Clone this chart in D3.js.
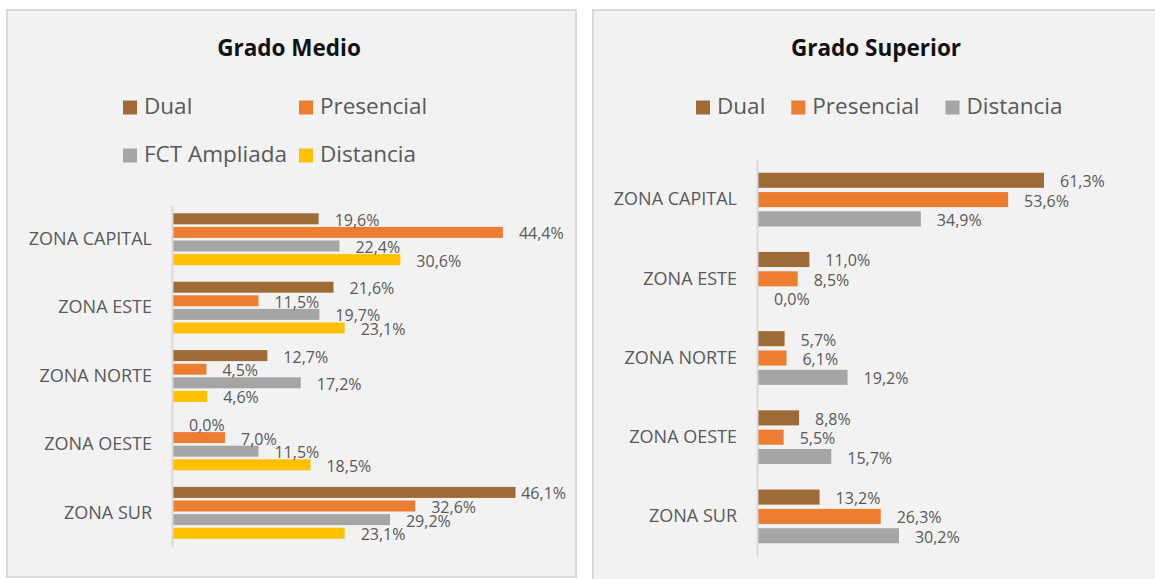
<!DOCTYPE html>
<html><head><meta charset="utf-8">
<script src="https://cdn.jsdelivr.net/npm/d3@7"></script>
<style>body{margin:0;background:#fff}svg{display:block;font-family:"Open Sans",sans-serif}</style>
</head><body><svg id="c" width="1155" height="579"></svg>
<script>
const categories = ["ZONA CAPITAL", "ZONA ESTE", "ZONA NORTE", "ZONA OESTE", "ZONA SUR"];

const medioSeries = ["Dual", "Presencial", "FCT Ampliada", "Distancia"];
const medioDual = [19.6, 21.6, 12.7, 0.0, 46.1];
const medioPresencial = [44.4, 11.5, 4.5, 7.0, 32.6];
const medioFCT = [22.4, 19.7, 17.2, 11.5, 29.2];
const medioDistancia = [30.6, 23.1, 4.6, 18.5, 23.1];

const superiorSeries = ["Dual", "Presencial", "Distancia"];
const superiorDual = [61.3, 11.0, 5.7, 8.8, 13.2];
const superiorPresencial = [53.6, 8.5, 6.1, 5.5, 26.3];
const superiorDistancia = [34.9, 0.0, 19.2, 15.7, 30.2];

const colMedio = ["#9E6B37", "#ED7D31", "#A5A5A5", "#FFC000"];
const colSuperior = ["#9E6B37", "#ED7D31", "#A5A5A5"];

const svg = d3.select("#c");
const fmt = v => d3.format(".1f")(v).replace(".", ",") + "%";
const FONT = "'Open Sans', sans-serif";

function drawPanel(p) {
  const g = svg.append("g");
  g.append("rect").attr("x", p.box[0]).attr("y", p.box[1]).attr("width", p.box[2]).attr("height", p.box[3])
    .attr("fill", "#F2F2F2").attr("stroke", "#D9D9D9").attr("stroke-width", 2);
  g.append("text").attr("x", p.titleX).attr("y", 56).attr("text-anchor", "middle")
    .attr("font-weight", "bold").attr("font-size", 22.5).attr("fill", "#111").text(p.title);

  // legend
  const lg = g.append("g");
  let cx = p.legend.x0;
  p.series.forEach((s, i) => {
    let lx, ly;
    if (p.legend.cols) {
      lx = p.legend.colX[i % p.legend.cols];
      ly = p.legend.rowY[Math.floor(i / p.legend.cols)];
    } else { lx = cx; ly = p.legend.rowY[0]; }
    lg.append("rect").attr("x", lx).attr("y", ly - 13.5).attr("width", 14).attr("height", 14).attr("fill", p.colors[i]);
    const t = lg.append("text").attr("x", lx + 21).attr("y", ly).attr("font-size", 22.5).attr("fill", "#595959").text(s);
    if (!p.legend.cols) cx = lx + 21 + t.node().getComputedTextLength() + 26;
  });

  const x = d3.scaleLinear().domain([0, p.xMax]).range([p.axisX + 1, p.xEnd]);
  const y0 = d3.scaleBand().domain(categories).range([p.yTop, p.yBot]);
  const y1 = d3.scaleBand().domain(p.series).range([0, y0.bandwidth()]).paddingInner(p.pi).paddingOuter(p.po);

  const grp = g.selectAll("g.cat").data(categories).join("g").attr("class", "cat")
    .attr("transform", d => `translate(0,${y0(d)})`);
  grp.each(function (cat, ci) {
    const gg = d3.select(this);
    p.series.forEach((s, si) => {
      const v = p.values[si][ci];
      gg.append("rect").attr("x", x(0)).attr("y", y1(s)).attr("width", x(v) - x(0)).attr("height", y1.bandwidth())
        .attr("fill", p.colors[si]);
    });
    p.series.forEach((s, si) => {
      const v = p.values[si][ci];
      const t = gg.append("text").attr("y", y1(s) + y1.bandwidth() / 2 + 7)
        .attr("font-size", 16).attr("fill", "#595959").text(fmt(v));
      const w = t.node().getComputedTextLength();
      let lx = x(v) + 16;
      if (lx + w > p.labelMax) lx = p.labelMax - w;
      t.attr("x", lx);
    });
  });

  const ax = g.append("g").attr("transform", `translate(${p.axisX},0)`)
    .call(d3.axisLeft(y0).tickSize(0).tickSizeOuter(0).tickPadding(20));
  ax.attr("font-family", FONT).attr("font-size", 18);
  ax.select(".domain").attr("stroke", "#D9D9D9").attr("stroke-width", 2);
  ax.selectAll("text").attr("fill", "#595959");
}

drawPanel({
  box: [7, 10, 569, 567], title: "Grado Medio", titleX: 289,
  series: medioSeries, colors: colMedio,
  values: [medioDual, medioPresencial, medioFCT, medioDistancia],
  legend: { cols: 2, colX: [123, 299], rowY: [114, 162] },
  axisX: 172, xMax: 50, xEnd: 544.5, yTop: 205, yBot: 547, pi: 0.19, po: 0.61, labelMax: 566
});

drawPanel({
  box: [593, 10, 570, 580], title: "Grado Superior", titleX: 876,
  series: superiorSeries, colors: colSuperior,
  values: [superiorDual, superiorPresencial, superiorDistancia],
  legend: { x0: 696, rowY: [114] },
  axisX: 757, xMax: 70, xEnd: 1084.6, yTop: 160, yBot: 556, pi: 0.22, po: 0.66, labelMax: 1150
});
</script></body></html>
